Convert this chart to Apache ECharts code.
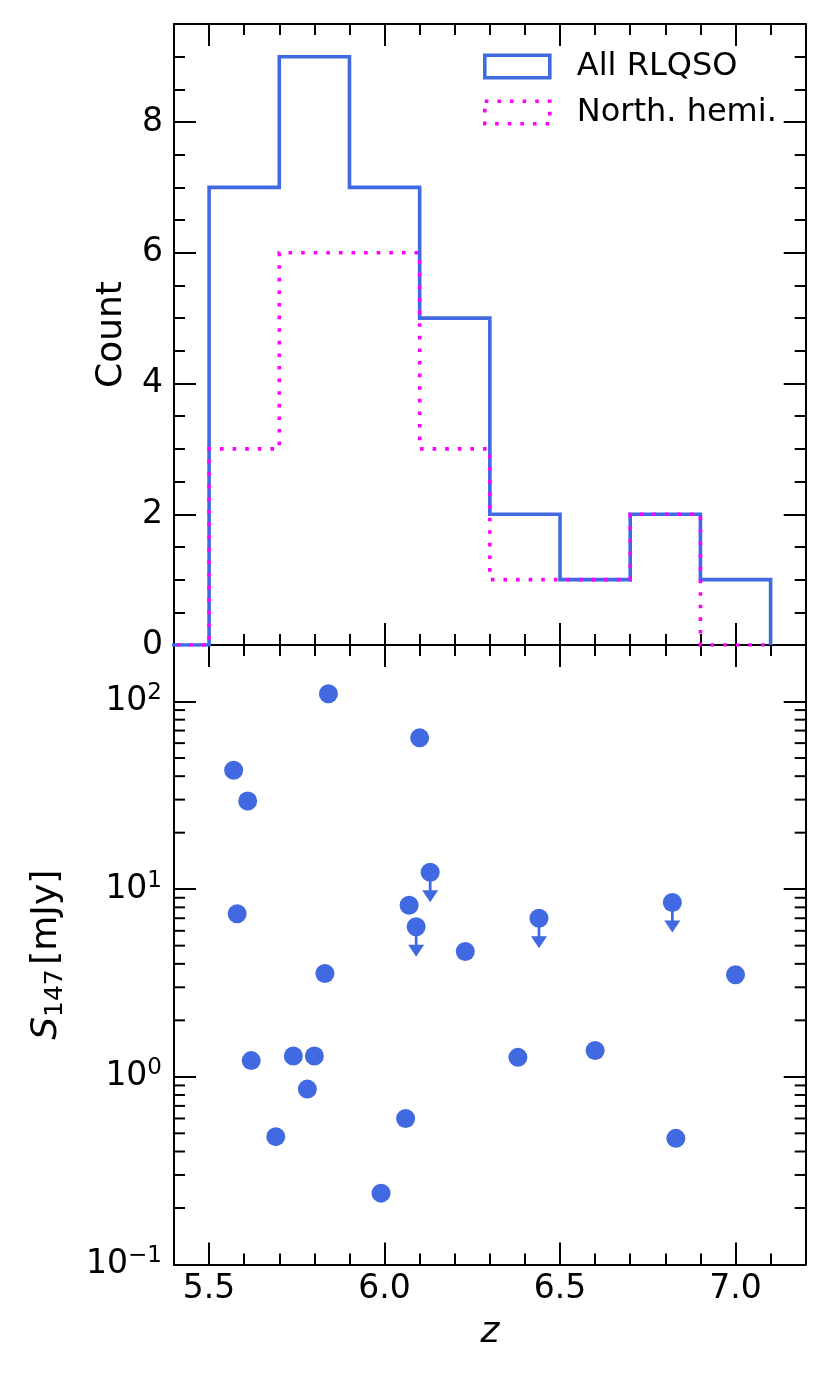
<!DOCTYPE html>
<html>
<head>
<meta charset="utf-8">
<script src="https://cdn.jsdelivr.net/npm/echarts@6/dist/echarts.min.js"></script>
<style>
  html, body { margin: 0; padding: 0; background: #fff; }
  #chart { width: 830px; height: 1384px; }
</style>
</head>
<body>
<div id="chart"></div>
<script>
// histogram bins (the first bin is empty)
var binEdges = [5.3, 5.5, 5.7, 5.9, 6.1, 6.3, 6.5, 6.7, 6.9, 7.1];
var allCounts = [0, 7, 9, 7, 5, 2, 1, 2, 1];
var northCounts = [0, 3, 6, 6, 3, 1, 1, 2, 0];

// detections: redshift and S147 in mJy
var detZ = [5.84, 6.10, 5.57, 5.61, 5.58, 6.07, 6.23, 5.83, 5.62, 5.74, 5.80, 5.78, 5.69, 6.06, 5.99, 7.00, 6.38, 6.60, 6.83];
var detS = [110, 64, 43, 29.5, 7.4, 8.2, 4.65, 3.55, 1.22, 1.29, 1.29, 0.86, 0.48, 0.60, 0.24, 3.5, 1.27, 1.38, 0.47];

// upper limits
var limZ = [6.13, 6.09, 6.44, 6.82];
var limS = [12.3, 6.3, 7.0, 8.5];

// minor ticks of the log axis
var logMinorTicks = [0.2, 0.3, 0.4, 0.5, 0.6, 0.7, 0.8, 0.9,
                     2, 3, 4, 5, 6, 7, 8, 9,
                     20, 30, 40, 50, 60, 70, 80, 90];

var zMin = 5.4, zMax = 7.2;
var countMax = 9.5;
var sMin = 0.1, sMax = 200;

var blue = '#4169E1';
var magenta = '#FF00FF';
var font = 'DejaVu Sans';

function stepPoints(edges, counts) {
    var pts = [[edges[0], 0]];
    counts.forEach(function (c, i) {
        pts.push([edges[i], c], [edges[i + 1], c]);
    });
    pts.push([edges[edges.length - 1], 0]);
    return pts;
}

function zip(a, b) {
    return a.map(function (v, i) { return [v, b[i]]; });
}

var tickStyle = {color: '#000', width: 2};

function xAxisOpt(grid, pos, labels, name) {
    return {
        type: 'value', gridIndex: grid, position: pos,
        min: zMin, max: zMax, splitNumber: 4,
        name: name || '', nameLocation: 'middle', nameGap: 50,
        nameTextStyle: {fontFamily: font, fontSize: 36, fontStyle: 'italic', color: '#000'},
        axisLine: {show: true, onZero: false, lineStyle: tickStyle},
        axisTick: {show: true, inside: true, length: 22, lineStyle: tickStyle},
        minorTick: {show: true, splitNumber: 5, length: 11, lineStyle: tickStyle},
        splitLine: {show: false},
        axisLabel: {
            show: labels, margin: 8, fontFamily: font, fontSize: 33, color: '#000',
            showMinLabel: false, showMaxLabel: false,
            formatter: function (v) { return v.toFixed(1); }
        }
    };
}

function countAxisOpt(pos, labels) {
    return {
        type: 'value', gridIndex: 0, position: pos,
        min: 0, max: countMax, interval: 2,
        name: labels ? 'Count' : '', nameLocation: 'middle', nameGap: 44,
        nameTextStyle: {fontFamily: font, fontSize: 36, color: '#000'},
        axisLine: {show: true, onZero: false, lineStyle: tickStyle},
        axisTick: {show: true, inside: true, length: 22, lineStyle: tickStyle},
        minorTick: {show: true, splitNumber: 4, length: 11, lineStyle: tickStyle},
        splitLine: {show: false},
        axisLabel: {
            show: labels, margin: 11, fontFamily: font, fontSize: 33, color: '#000',
            showMaxLabel: false,
            formatter: function (v) { return Math.abs(v - Math.round(v)) < 1e-6 ? String(Math.round(v)) : ''; }
        }
    };
}

function fluxAxisOpt(pos, labels) {
    return {
        type: 'log', logBase: 10, gridIndex: 1, position: pos,
        min: sMin, max: sMax,
        name: labels ? '{it|S}{sub|147}{sp| }[mJy]' : '',
        nameLocation: 'middle', nameGap: 106,
        nameTextStyle: {
            fontFamily: font, fontSize: 36, color: '#000', lineHeight: 43,
            rich: {
                it: {fontFamily: font, fontSize: 36, fontStyle: 'italic', color: '#000', lineHeight: 43},
                sub: {fontFamily: font, fontSize: 25, color: '#000', lineHeight: 24, verticalAlign: 'bottom'},
                sp: {fontFamily: font, fontSize: 14, lineHeight: 43}
            }
        },
        axisLine: {show: true, onZero: false, lineStyle: tickStyle},
        axisTick: {show: true, inside: true, length: 22, lineStyle: tickStyle},
        minorTick: {show: false},
        splitLine: {show: false},
        axisLabel: {
            show: labels, margin: 12, fontFamily: font, fontSize: 33, color: '#000',
            lineHeight: 40,
            formatter: function (v) {
                var e = Math.log10(v);
                var r = Math.round(e);
                if (Math.abs(e - r) > 0.01) return '';
                return '10{sup|' + (r < 0 ? '\u2212' + (-r) : r) + '}';
            },
            rich: {
                sup: {fontFamily: font, fontSize: 23, color: '#000', lineHeight: 24, verticalAlign: 'top'}
            }
        }
    };
}

var myChart = echarts.init(document.getElementById('chart'), null, {renderer: 'canvas'});

var option = {
    animation: false,
    backgroundColor: '#fff',
    grid: [
        {left: 174, right: 24.3, top: 24, height: 621},
        {left: 174, right: 24.3, top: 645, height: 619.5}
    ],
    legend: {
        left: 483, top: 50.5, orient: 'vertical', padding: 0,
        itemWidth: 65, itemHeight: 22.5, itemGap: 14,
        selectedMode: false,
        textStyle: {fontFamily: font, fontSize: 32, color: '#000', padding: [0, 0, 0, 22]},
        data: [
            {name: 'All RLQSO', icon: 'rect',
             itemStyle: {color: 'rgba(0,0,0,0)', borderColor: blue, borderWidth: 3.6, borderType: 'solid'}},
            {name: 'North. hemi.', icon: 'rect',
             itemStyle: {color: 'rgba(0,0,0,0)', borderColor: magenta, borderWidth: 3.6, borderType: [3.6, 9], borderCap: 'butt'}}
        ]
    },
    xAxis: [
        xAxisOpt(0, 'bottom', false),
        xAxisOpt(0, 'top', false),
        xAxisOpt(1, 'bottom', true, 'z'),
        xAxisOpt(1, 'top', false)
    ],
    yAxis: [
        countAxisOpt('left', true),
        countAxisOpt('right', false),
        fluxAxisOpt('left', true),
        fluxAxisOpt('right', false)
    ],
    series: [
        {
            name: 'All RLQSO', type: 'line', xAxisIndex: 0, yAxisIndex: 0,
            data: stepPoints(binEdges, allCounts),
            showSymbol: false, symbol: 'none',
            lineStyle: {color: blue, width: 3.6, join: 'miter', cap: 'butt'},
            itemStyle: {color: blue}
        },
        {
            name: 'North. hemi.', type: 'line', xAxisIndex: 0, yAxisIndex: 0,
            data: stepPoints(binEdges, northCounts),
            showSymbol: false, symbol: 'none',
            lineStyle: {color: magenta, width: 3.6, type: [3.6, 9], join: 'miter', cap: 'butt'},
            itemStyle: {color: magenta}
        },
        {
            name: 'logMinor', type: 'custom', xAxisIndex: 2, yAxisIndex: 2,
            data: logMinorTicks.map(function (v) { return [zMin, v]; }),
            encode: {x: 0, y: 1},
            silent: true,
            renderItem: function (params, api) {
                var v = api.value(1);
                var pl = api.coord([zMin, v]);
                var pr = api.coord([zMax, v]);
                return {
                    type: 'group',
                    children: [
                        {type: 'line', shape: {x1: pl[0], y1: pl[1], x2: pl[0] + 11, y2: pl[1]},
                         style: {stroke: '#000', lineWidth: 2}},
                        {type: 'line', shape: {x1: pr[0] - 11, y1: pr[1], x2: pr[0], y2: pr[1]},
                         style: {stroke: '#000', lineWidth: 2}}
                    ]
                };
            }
        },
        {
            name: 'detections', type: 'scatter', xAxisIndex: 2, yAxisIndex: 2,
            data: zip(detZ, detS),
            symbol: 'circle', symbolSize: 19,
            itemStyle: {color: blue, opacity: 1}
        },
        {
            name: 'limitArrows', type: 'custom', xAxisIndex: 2, yAxisIndex: 2,
            data: zip(limZ, limS),
            encode: {x: 0, y: 1},
            renderItem: function (params, api) {
                var p = api.coord([api.value(0), api.value(1)]);
                return {
                    type: 'group',
                    children: [
                        {type: 'line', shape: {x1: p[0], y1: p[1], x2: p[0], y2: p[1] + 20},
                         style: {stroke: blue, lineWidth: 2.7}},
                        {type: 'polygon', shape: {points: [[p[0] - 8, p[1] + 18], [p[0] + 8, p[1] + 18], [p[0], p[1] + 30]]},
                         style: {fill: blue}}
                    ]
                };
            }
        },
        {
            name: 'limits', type: 'scatter', xAxisIndex: 2, yAxisIndex: 2,
            data: zip(limZ, limS),
            symbol: 'circle', symbolSize: 19,
            itemStyle: {color: blue, opacity: 1}
        }
    ]
};
myChart.setOption(option);
</script>
</body>
</html>
